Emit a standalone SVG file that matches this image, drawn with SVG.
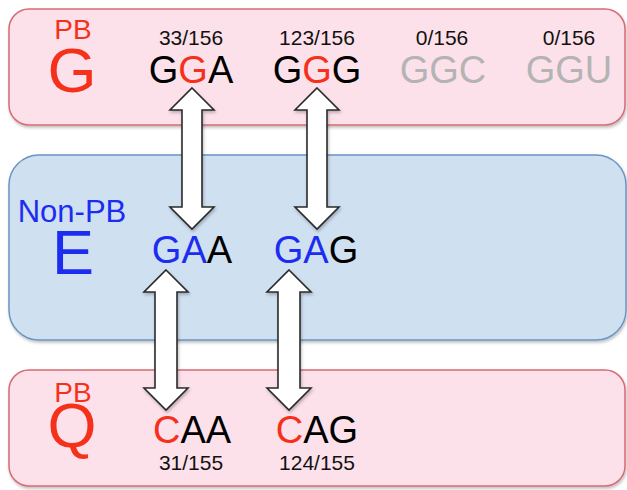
<svg xmlns="http://www.w3.org/2000/svg" width="627" height="490" viewBox="0 0 627 490">
<defs>
<filter id="sh" x="-5%" y="-5%" width="110%" height="115%"><feDropShadow dx="1" dy="2" stdDeviation="1.5" flood-color="#000" flood-opacity="0.25"/></filter>
<style>
text{font-family:"Liberation Sans",Arial,sans-serif;text-anchor:middle}
.pb{fill:#fde1ea;stroke:#d66b74;stroke-width:1.5}
.np{fill:#cfe0f1;stroke:#6b94c4;stroke-width:1.5}
.red{fill:#f5311b}
.blue{fill:#1c2cf0}
.blk{fill:#000}
.gry{fill:#b4b4b4}
.cnt{font-size:21px;fill:#111}
.cod{font-size:38px}
.big{font-size:63px}
.lab{font-size:28px}
.arr{fill:#fff;stroke:#2a2a2a;stroke-width:1.6;stroke-linejoin:miter}
</style>
</defs>
<g id="node-G">
<rect class="pb" x="9" y="9" width="616" height="116" rx="20" filter="url(#sh)"/>
<text class="lab red" x="73" y="39">PB</text>
<text class="big red" x="72" y="92">G</text>
<text class="cnt" x="191" y="45">33/156</text>
<text class="cod" x="191" y="83"><tspan class="blk">G</tspan><tspan class="red">G</tspan><tspan class="blk">A</tspan></text>
<text class="cnt" x="317" y="45">123/156</text>
<text class="cod" x="317" y="83"><tspan class="blk">G</tspan><tspan class="red">G</tspan><tspan class="blk">G</tspan></text>
<text class="cnt" x="442" y="45">0/156</text>
<text class="cod gry" x="443" y="83">GGC</text>
<text class="cnt" x="569" y="45">0/156</text>
<text class="cod gry" x="569" y="83">GGU</text>
</g>
<g id="node-E">
<rect class="np" x="9" y="155" width="617" height="185" rx="30" filter="url(#sh)"/>
<text class="blue" x="72" y="222" font-size="31">Non-PB</text>
<text class="big blue" x="73" y="274">E</text>
<text class="cod" x="192" y="263"><tspan class="blue">GA</tspan><tspan class="blk">A</tspan></text>
<text class="cod" x="316" y="263"><tspan class="blue">GA</tspan><tspan class="blk">G</tspan></text>
</g>
<g id="node-Q">
<rect class="pb" x="9" y="370" width="616" height="116" rx="20" filter="url(#sh)"/>
<text class="lab red" x="73" y="402">PB</text>
<text class="big red" x="72" y="447">Q</text>
<text class="cod" x="192" y="443"><tspan class="red">C</tspan><tspan class="blk">AA</tspan></text>
<text class="cnt" x="191" y="470">31/155</text>
<text class="cod" x="317" y="443"><tspan class="red">C</tspan><tspan class="blk">AG</tspan></text>
<text class="cnt" x="317" y="470">124/155</text>
</g>
<g id="connectors" filter="url(#sh)">
<path class="arr" d="M192,88 L214,110 L202,110 L202,207 L214,207 L192,229 L170,207 L182,207 L182,110 L170,110 Z"/>
<path class="arr" d="M317,88 L339,110 L327,110 L327,207 L339,207 L317,229 L295,207 L307,207 L307,110 L295,110 Z"/>
<path class="arr" d="M166,270 L188,292 L177,292 L177,388 L188,388 L166,410 L144,388 L155,388 L155,292 L144,292 Z"/>
<path class="arr" d="M289,270 L311,292 L300,292 L300,388 L311,388 L289,410 L267,388 L278,388 L278,292 L267,292 Z"/>
</g>
</svg>
